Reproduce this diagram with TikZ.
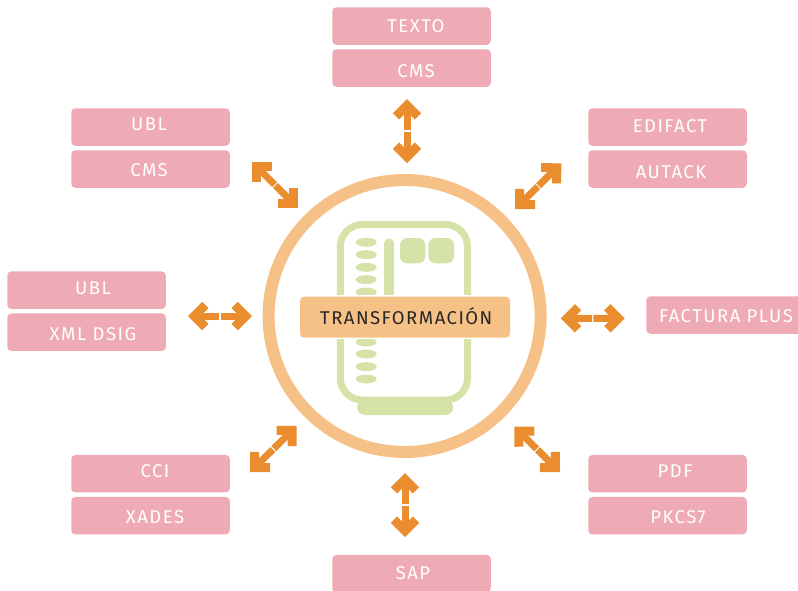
\documentclass[tikz,border=0pt]{standalone}
\usepackage{fontspec}
\setmainfont[LetterSpace=8]{Fira Sans}
\usetikzlibrary{arrows.meta,calc,shapes.geometric}
\definecolor{ringc}{HTML}{F5C187}
\definecolor{pinkc}{HTML}{EFABB5}
\definecolor{greenc}{HTML}{D5E3A8}
\definecolor{arrowc}{HTML}{EA8D2E}
\tikzset{
  pinkbox/.style={fill=pinkc,rounded corners=4pt,minimum width=158.5pt,minimum height=37.5pt,inner sep=0pt},
  pinktext/.style={text=white,font=\fontsize{18.5}{18.5}\selectfont,inner sep=0pt},
  arrowline/.style={arrowc,line width=7pt,-{Straight Barb[length=11pt,width=22pt,line width=9pt]}},
  pill/.style={fill=greenc,ellipse,minimum width=21pt,minimum height=9pt,inner sep=0pt},
}
\begin{document}
\begin{tikzpicture}[x=1pt,y=-1pt]
    \useasboundingbox (0,0) rectangle (798,590);
    % phone
    \draw[greenc,line width=7pt,rounded corners=22pt] (340.3,224.5) rectangle (467.5,400);
    \fill[greenc,rounded corners=8pt] (357,400) -- (357,415) -- (453.3,415) -- (453.3,400) -- cycle;
    \foreach \y in {242.3,254.7,267.3,279.7,292,342,354,366.7,379} \node[pill] at (366.2,\y) {};
    \draw[greenc,line width=9.4pt,line cap=round] (389,243) -- (389,310);
    \fill[greenc,rounded corners=7pt] (400,238) rectangle (425.3,263.3);
    \fill[greenc,rounded corners=7pt] (428.3,238) rectangle (454,263.3);
    % ring and title
    \node[draw=ringc,line width=12pt,circle,minimum size=272pt,inner sep=0pt] (ring) at (404.6,316) {};
    \fill[white] (298.5,295.2) rectangle (511.5,339.2);
    \node[fill=ringc,rounded corners=4pt,minimum width=210pt,minimum height=41pt,inner sep=0pt] (title) at (405,317.2) {};
    \node[text=black!85,font=\fontsize{18.5}{18.5}\selectfont,inner sep=0pt] (titletext) at (406.3,316) {TRANSFORMACIÓN};
    % boxes
    \foreach \n/\x/\y/\tx/\ty/\t in {
      texto/411.5/26/416/26/TEXTO, cmsa/411.5/68/416/71/CMS,
      ubla/150.5/127/149/124/UBL, cmsb/150.5/169/149/170/CMS,
      edifact/667.5/127/670/126/EDIFACT, autack/667.5/169/671/172/AUTACK,
      ublb/86.5/290.2/93/288/UBL, xmldsig/86.5/332.2/93/334/XML DSIG,
      factura/725.5/315/726/316/FACTURA PLUS,
      cci/150.5/473.7/155/471/CCI, xades/150.5/515.7/155/517/XADES,
      pdf/667.5/473.7/675/471/PDF, pkcs/667.5/515.7/678/517/PKCS7,
      sap/411.5/573.7/413/573/SAP}
      {
      \node[pinkbox] (\n) at (\x,\y) {};
      \node[pinktext] (\n text) at (\tx,\ty) {\t};
      }
    % arrows
    \coordinate (na) at (407,99);      \coordinate (nb) at (407,163);
    \coordinate (nea) at (561.3,163.3); \coordinate (neb) at (515,209);
    \coordinate (nwa) at (252,162);    \coordinate (nwb) at (298,208);
    \coordinate (wa) at (188,316);     \coordinate (wb) at (252,316);
    \coordinate (ea) at (624.7,318.3); \coordinate (eb) at (560.7,318.3);
    \coordinate (swa) at (250,472);    \coordinate (swb) at (296.7,426);
    \coordinate (sea) at (560,472);    \coordinate (seb) at (514.3,426.7);
    \coordinate (sa) at (405,537);     \coordinate (sb) at (405,473);
    \foreach \a/\b in {na/nb,nea/neb,nwa/nwb,wa/wb,ea/eb,swa/swb,sea/seb,sa/sb} {
      \draw[arrowline] ($(\a)!.49!(\b)$) -- (\a);
      \draw[arrowline] ($(\a)!.51!(\b)$) -- (\b);
    }
  \end{tikzpicture}
\end{document}
